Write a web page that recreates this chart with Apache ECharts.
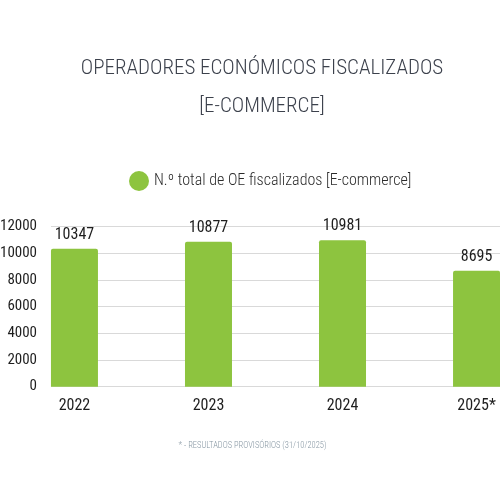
<!DOCTYPE html>
<html>
<head>
<meta charset="utf-8">
<script src="https://cdn.jsdelivr.net/npm/echarts@6/dist/echarts.min.js"></script>
<style>html,body{margin:0;padding:0;background:#fff}#c{width:500px;height:500px}</style>
</head>
<body>
<div id="c"></div>
<script>
const categories = ['2022', '2023', '2024', '2025*'];
const values = [10347, 10877, 10981, 8695];
const yTicks = [0, 2000, 4000, 6000, 8000, 10000, 12000];
const seriesName = 'N.º total de OE fiscalizados [E-commerce]';
const titleText = 'OPERADORES ECONÓMICOS FISCALIZADOS\n[E-COMMERCE]';
const footnote = '* - RESULTADOS PROVISÓRIOS (31/10/2025)';

const FONT = '"Roboto Condensed", "DejaVu Sans Condensed", sans-serif';
const chart = echarts.init(document.getElementById('c'));
chart.setOption({
  backgroundColor: '#ffffff',
  animation: false,
  title: [{
    text: titleText,
    left: 257, top: 45, textAlign: 'center',
    textStyle: { fontFamily: FONT, fontSize: 21, fontWeight: 300, color: '#3c414c', lineHeight: 38 }
  }, {
    text: footnote,
    left: 247.5, top: 436, textAlign: 'center',
    textStyle: { fontFamily: FONT, fontSize: 8.5, fontWeight: 300, color: '#8797a3' }
  }],
  legend: {
    data: [seriesName],
    left: 124, top: 166,
    icon: 'circle', itemWidth: 20, itemHeight: 20, itemGap: 8,
    textStyle: { fontFamily: FONT, fontSize: 16, fontWeight: 300, color: '#2b2b2b' }
  },
  grid: { left: 51, right: 0, top: 226.7, bottom: 113.3, outerBoundsMode: 'none', containLabel: false },
  xAxis: {
    type: 'value', min: -0.175, max: 3.175,
    splitLine: { show: false }, axisLine: { show: false }, axisTick: { show: false },
    axisLabel: {
      customValues: categories.map((c, i) => i),
      formatter: v => categories[Math.round(v)],
      fontFamily: FONT, fontSize: 16, fontWeight: 400, color: '#1e1e1e', margin: 11
    }
  },
  yAxis: {
    type: 'value', min: yTicks[0], max: yTicks[yTicks.length - 1], interval: 2000,
    axisLine: { show: false }, axisTick: { show: false },
    splitLine: { lineStyle: { color: '#d9d9d9', width: 1 } },
    axisLabel: { formatter: v => String(v), fontFamily: FONT, fontSize: 15, fontWeight: 400, color: '#1e1e1e', margin: 14 }
  },
  series: [{
    name: seriesName,
    type: 'bar',
    barWidth: 47,
    data: values.map((v, i) => [i, v]),
    itemStyle: { color: '#8dc43f', borderRadius: [2, 2, 0, 0] },
    label: {
      show: true, position: 'top', distance: 6,
      formatter: p => p.value[1],
      fontFamily: FONT, fontSize: 16, fontWeight: 400, color: '#1e1e1e'
    }
  }]
});
</script>
</body>
</html>
